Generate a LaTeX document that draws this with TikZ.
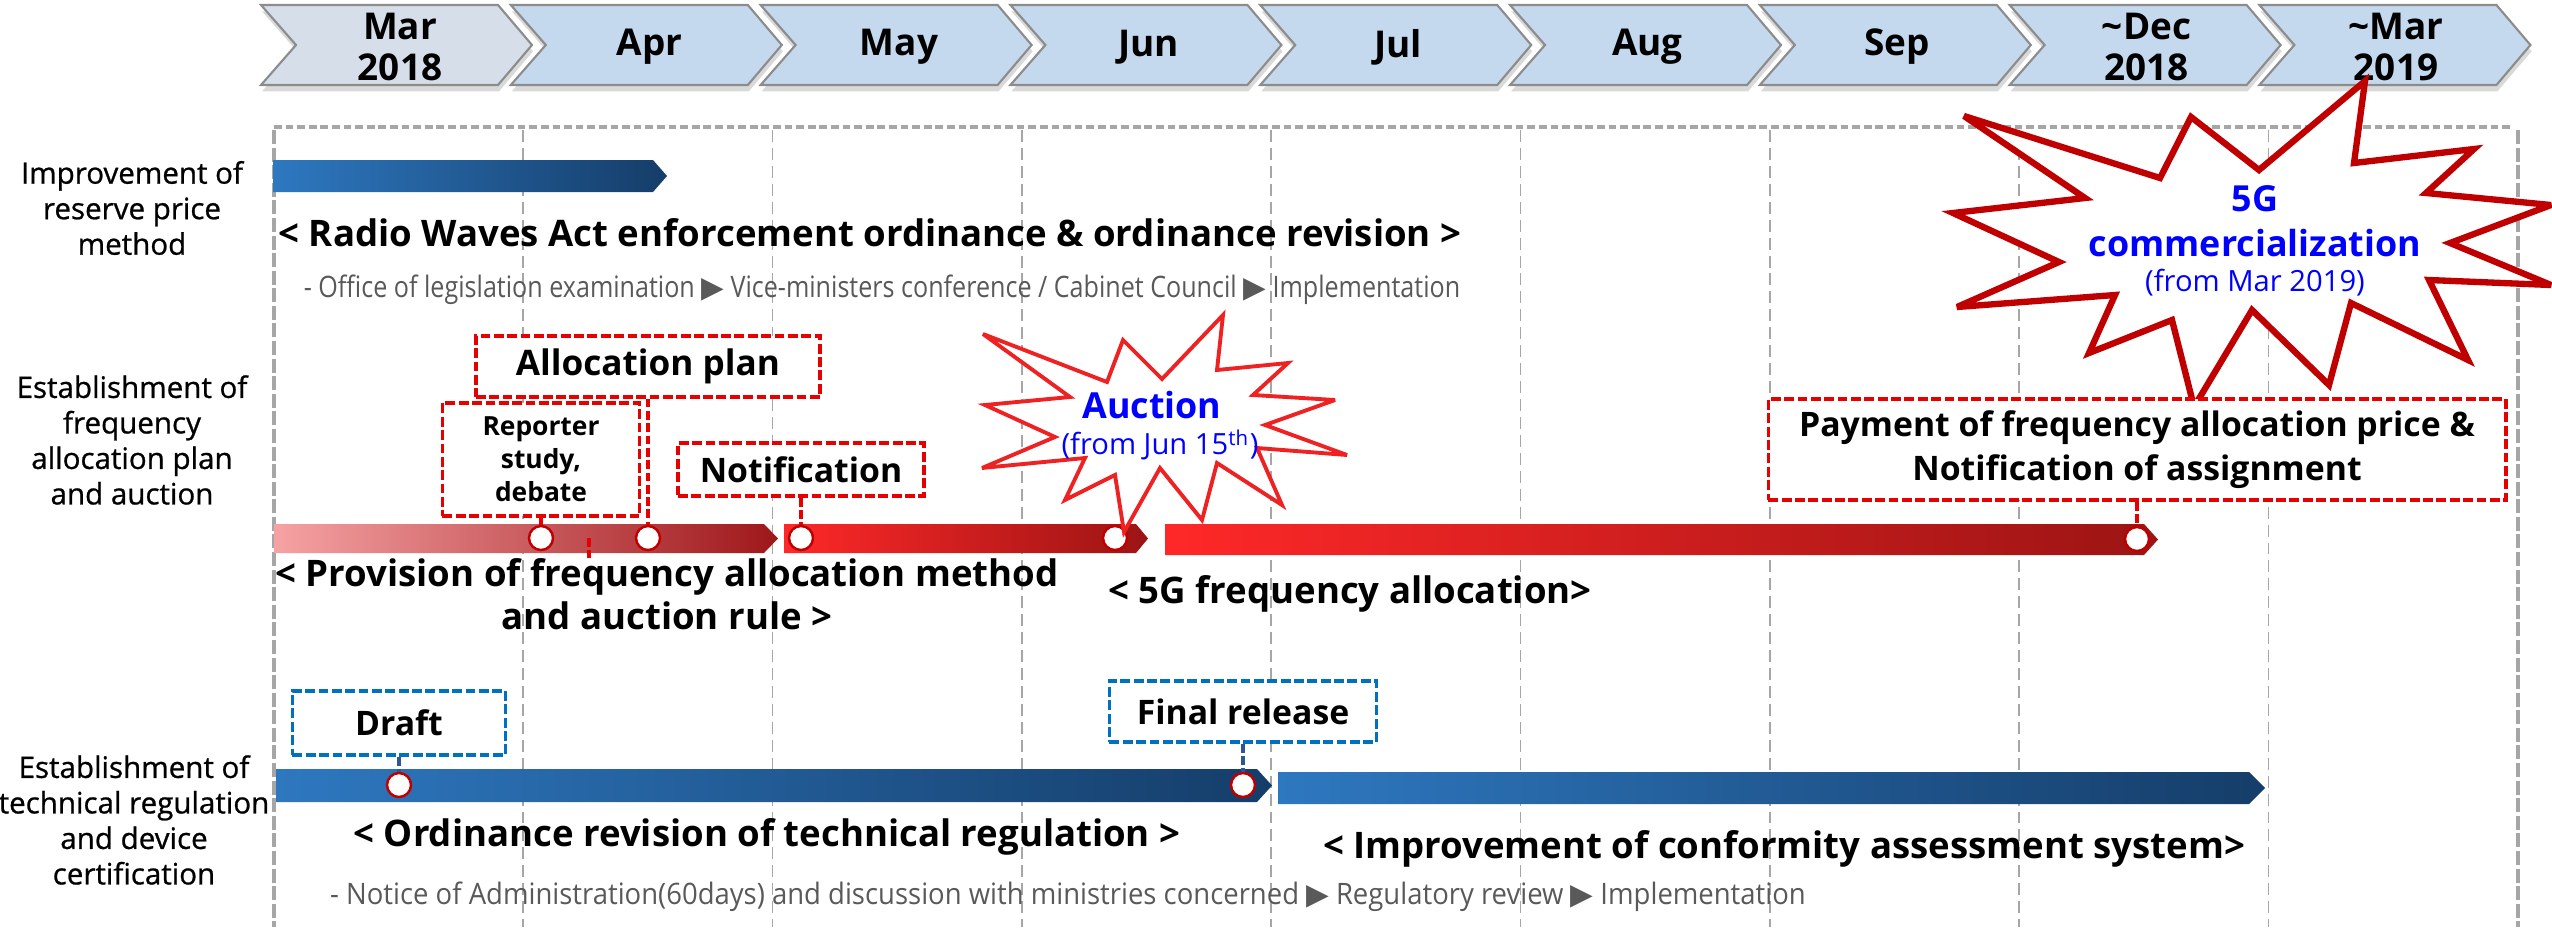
\documentclass[tikz,border=0pt]{standalone}
\usepackage{fontspec}
\setmainfont{Open Sans}
\newfontfamily\narrowfont{Open Sans}[FakeStretch=0.85]
\newfontfamily\widenotefont{Open Sans}[FakeStretch=0.93]
\newfontfamily\labelfont{Open Sans}[FakeBold=0.8]
\newfontfamily\symfont{DejaVu Sans}
\usetikzlibrary{positioning, shadows}

\definecolor{chevfirst}{HTML}{D6DFE9}
\definecolor{chevfill}{HTML}{C5D9EE}
\definecolor{chevline}{HTML}{8C8C8C}
\definecolor{gridgray}{HTML}{A6A6A6}
\definecolor{barblueL}{HTML}{2E78C0}
\definecolor{barblueR}{HTML}{153D69}
\definecolor{pinkL}{HTML}{F6A2A4}
\definecolor{pinkR}{HTML}{9E171A}
\definecolor{redL}{HTML}{FF2828}
\definecolor{redR}{HTML}{9C1414}
\definecolor{boxred}{HTML}{E60000}
\definecolor{boxblue}{HTML}{0070C0}
\definecolor{linkblue}{HTML}{2F5597}
\definecolor{darkred}{HTML}{C00000}
\definecolor{burstred}{HTML}{EE2222}
\definecolor{notegray}{HTML}{595959}

\newcommand{\tri}{{\symfont ▶}}

\begin{document}
\begin{tikzpicture}[x=0.01cm, y=-0.01cm]
    \tikzstyle{month} = [draw=chevline, line width=0.6pt, drop shadow={shadow xshift=0.3pt, shadow yshift=-1.8pt, opacity=0.3}]
    \tikzstyle{month_text} = [font=\bfseries\fontsize{10.5}{11.5}\selectfont, align=center]
    \tikzstyle{frame_line} = [draw=gridgray, line width=1pt, dash pattern=on 4pt off 1pt]
    \tikzstyle{top_line} = [draw=gridgray, line width=1.4pt, dash pattern=on 2.2pt off 1.1pt]
    \tikzstyle{grid_line} = [draw=gridgray, line width=0.5pt, dash pattern=on 3.4pt off 1.7pt]
    \tikzstyle{row_label} = [font=\labelfont\fontsize{8.4}{10.1}\selectfont, align=center]
    \tikzstyle{task} = [font=\bfseries\fontsize{10.4}{12.2}\selectfont, align=center]
    \tikzstyle{note} = [font=\narrowfont\fontsize{8.4}{9}\selectfont, text=notegray]
    \tikzstyle{red_box} = [rectangle, draw=boxred, fill=white, line width=1pt, dash pattern=on 2.8pt off 1pt, align=center, font=\bfseries\fontsize{9.6}{12.4}\selectfont]
    \tikzstyle{blue_box} = [red_box, draw=boxblue]
    \tikzstyle{milestone} = [circle, draw=darkred, fill=white, line width=0.7pt, minimum size=0.24cm, inner sep=0pt]
    \tikzstyle{red_link} = [draw=boxred, line width=1pt, dash pattern=on 2.5pt off 1pt]
    \tikzstyle{blue_link} = [draw=linkblue, line width=1pt, dash pattern=on 2.5pt off 1pt]
    \tikzstyle{burst} = [draw=burstred, fill=white, line width=1.1pt, miter limit=4]
    \tikzstyle{burst_text} = [text=blue, font=\bfseries\fontsize{10.2}{12.8}\selectfont, align=center]
    \tikzstyle{burst_date} = [text=blue, font=\fontsize{8.3}{10}\selectfont]

    \useasboundingbox (0,0) rectangle (2552,927);

    % frame and month grid
    \draw [frame_line] (274,130) -- (274,927);
    \draw [frame_line] (2518,130) -- (2518,927);
    \foreach \k in {1,...,8}
        \draw [grid_line] ({274+249.3*\k},130) -- ({274+249.3*\k},927);
    \draw [top_line] (274,127) -- (2513,127);

    % months
    \foreach \m/\c [count=\i from 0] in {{Mar\\2018}/chevfirst, Apr/chevfill, May/chevfill, Jun/chevfill, Jul/chevfill, Aug/chevfill, Sep/chevfill, {\textasciitilde Dec\\2018}/chevfill, {\textasciitilde Mar\\2019}/chevfill}
    {
        \draw [month, fill=\c] ({261+249.8*\i},5) -- ++(237,0) -- ++(34,40) -- ++(-34,40) -- ++(-237,0) -- ++(35,-40) -- cycle;
        \node [month_text] (month\i) at ({400+249.5*\i},47) {\m};
    }

    % row labels
    \node [row_label] (label_price) at (132,208) {Improvement of\\reserve price\\method};
    \node [row_label] (label_auction) at (132,440) {Establishment of\\frequency\\allocation plan\\and auction};
    \node [row_label] (label_tech) at (134,820) {Establishment of\\technical regulation\\and device\\certification};

    % bars
    \shade [left color=barblueL, right color=barblueR] (273,160) -- (653,160) -- (667,176) -- (653,192) -- (273,192) -- cycle;
    \shade [left color=pinkL, right color=pinkR] (274,524) -- (764,524) -- (778,538.5) -- (764,553) -- (274,553) -- cycle;
    \shade [left color=redL, right color=redR] (784,524) -- (1136,524) -- (1148,538.5) -- (1136,553) -- (784,553) -- cycle;
    \shade [left color=redL, right color=redR] (1165,524) -- (2144,524) -- (2158,539.5) -- (2144,555) -- (1165,555) -- cycle;
    \shade [left color=barblueL, right color=barblueR] (276,769) -- (1257,769) -- (1272,785.5) -- (1257,802) -- (276,802) -- cycle;
    \shade [left color=barblueL, right color=barblueR] (1278,772) -- (2249,772) -- (2265,788) -- (2249,804) -- (1278,804) -- cycle;

    % task texts
    \node [task] (radio) at (870,233) {< Radio Waves Act enforcement ordinance \& ordinance revision >};
    \node [note] (radio_steps) at (882,290) {- Office of legislation examination \tri{} Vice-ministers conference / Cabinet Council \tri{} Implementation};
    \node [task] (provision) at (667,594) {< Provision of frequency allocation method\\and auction rule >};
    \node [task] (allocation) at (1350,594) {< 5G frequency allocation>};
    \node [task] (ordinance) at (767,837) {< Ordinance revision of technical regulation >};
    \node [task] (conformity) at (1784,849) {< Improvement of conformity assessment system>};
    \node [note, font=\widenotefont\fontsize{8.4}{9}\selectfont] (tech_steps) at (1068,897) {- Notice of Administration(60days) and discussion with ministries concerned \tri{} Regulatory review \tri{} Implementation};

    % milestones
    \node [milestone] (m_study) at (541,538) {};
    \node [milestone] (m_plan) at (648,538) {};
    \node [milestone] (m_notice) at (801,538) {};
    \node [milestone] (m_auction) at (1115,538) {};
    \node [milestone] (m_payment) at (2137,539) {};
    \node [milestone] (m_draft) at (399,785) {};
    \node [milestone] (m_final) at (1243,785) {};

    % bursts
    \draw [burst] (1223,315) -- (1217,370) -- (1288,363) -- (1253,395) -- (1335,400) -- (1265,425) -- (1347,455) -- (1257,448) -- (1282,505) -- (1217,463) -- (1202,520) -- (1160,468) -- (1124,532) -- (1115,475) -- (1065,500) -- (1085,458) -- (982,468) -- (1055,437) -- (985,405) -- (1070,397) -- (983,334) -- (1107,382) -- (1123,340) -- (1162,379) -- cycle;
    \node [burst_text] (auction) at (1152,405) {Auction};
    \node [burst_date] (auction_date) at (1160,445) {(from Jun 15\textsuperscript{th})};

    \draw [burst, draw=darkred, line width=1.8pt] (2365,81) -- (2354,163) -- (2474,149) -- (2426,193) -- (2551,205) -- (2450,243) -- (2551,285) -- (2429,280) -- (2468,360) -- (2351,303) -- (2329,385) -- (2252,310) -- (2194,407) -- (2172,320) -- (2089,353) -- (2115,295) -- (1957,307) -- (2059,262) -- (1953,213) -- (2085,198) -- (1964,116) -- (2160,178) -- (2191,117) -- (2259,170) -- cycle;
    \node [burst_text] (commercial) at (2255,221) {5G\\commercialization};
    \node [burst_date] (commercial_date) at (2255,283) {(from Mar 2019)};

    % callouts
    \node [red_box, minimum width=3.44cm, minimum height=0.61cm, font=\bfseries\fontsize{10}{12}\selectfont, above=1.26cm of m_plan] (plan_box) {Allocation plan};
    \node [red_box, minimum width=1.97cm, minimum height=1.13cm, font=\bfseries\fontsize{7.5}{9.4}\selectfont, above=0.07cm of m_study] (study_box) {Reporter\\study,\\debate};
    \node [red_box, minimum width=2.46cm, minimum height=0.53cm, above=0.27cm of m_notice] (notice_box) {Notification};
    \node [red_box, minimum width=7.37cm, minimum height=0.95cm, above=0.24cm of m_payment] (pay_box) {Payment of frequency allocation price \&\\Notification of assignment};
    \node [blue_box, minimum width=2.13cm, minimum height=0.64cm, above=0.15cm of m_draft] (draft_box) {Draft};
    \node [blue_box, minimum width=2.67cm, minimum height=0.61cm, above=0.28cm of m_final] (final_box) {Final release};

    \coordinate (tick_top) at (589,538);
    \coordinate (tick_end) at (589,558);

    \path [red_link] (plan_box.south) -- (m_plan.north);
    \path [red_link] (study_box.south) -- (m_study.north);
    \path [red_link] (notice_box.south) -- (m_notice.north);
    \path [red_link] (pay_box.south) -- (m_payment.north);
    \path [red_link] (tick_top) -- (tick_end);
    \path [blue_link] (draft_box.south) -- (m_draft.north);
    \path [blue_link] (final_box.south) -- (m_final.north);
\end{tikzpicture}
\end{document}
